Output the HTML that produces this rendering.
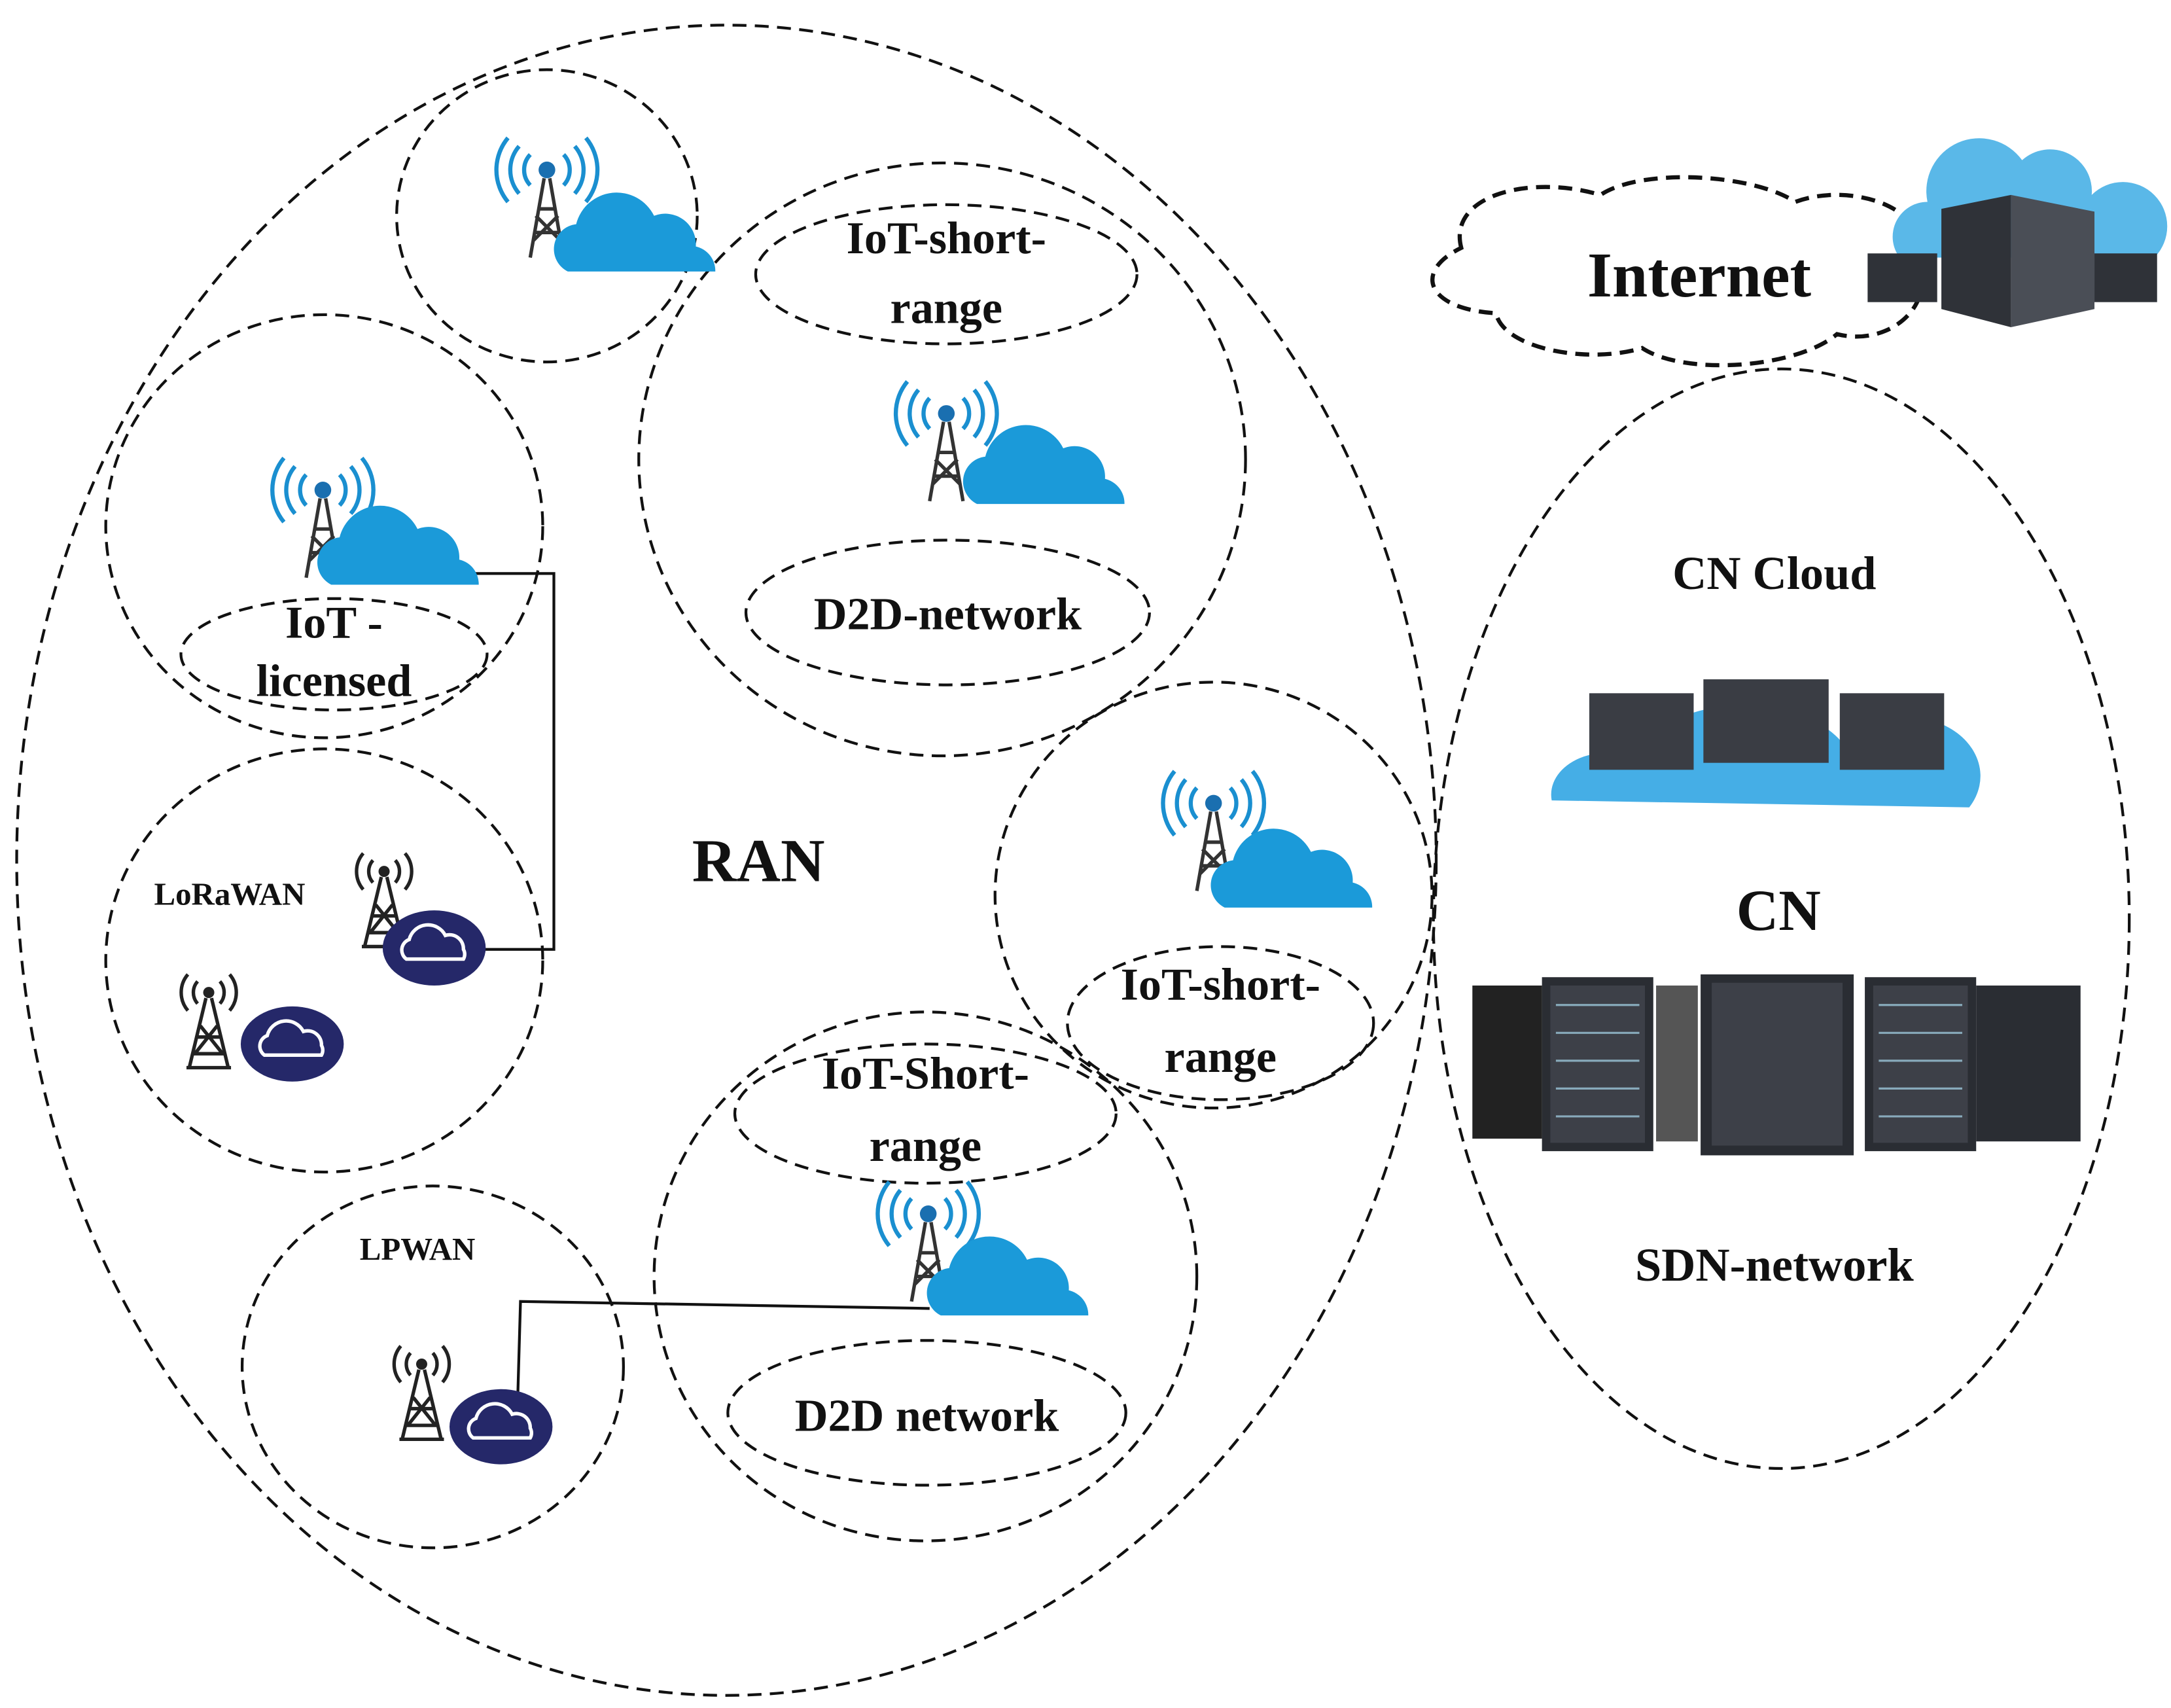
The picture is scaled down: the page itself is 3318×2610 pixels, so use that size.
<!DOCTYPE html>
<html><head><meta charset="utf-8"><style>
html,body{margin:0;padding:0;background:#fff;}
svg{display:block;}
text{font-family:"Liberation Serif",serif;font-weight:bold;fill:#111;text-anchor:middle;}
</style></head><body>
<svg width="3318" height="2610" viewBox="0 0 1560 1227" xmlns="http://www.w3.org/2000/svg">
<defs>
<g id="tower">
 <g fill="none" stroke="#1a8fd0" stroke-width="3">
  <path d="M-12,-14 a16,16 0 0 0 0,22"/><path d="M12,-14 a16,16 0 0 1 0,22"/>
  <path d="M-20,-20 a26,26 0 0 0 0,34"/><path d="M20,-20 a26,26 0 0 1 0,34"/>
  <path d="M-28,-26 a36,36 0 0 0 0,46"/><path d="M28,-26 a36,36 0 0 1 0,46"/>
 </g>
 <circle cx="0" cy="-3" r="6" fill="#1a6fb0"/>
 <g stroke="#333" stroke-width="2.5" fill="none">
  <path d="M-2,3 L-12,60 M2,3 L12,60 M-9,42 L9,42 M-6,25 L6,25 M-10,48 L8,30 M10,48 L-8,30"/>
 </g>
</g>
<g id="dtower">
 <g fill="none" stroke="#222" stroke-width="2.5">
  <path d="M-8,-10 a12,12 0 0 0 0,16"/><path d="M8,-10 a12,12 0 0 1 0,16"/>
  <path d="M-15,-15 a20,20 0 0 0 0,26"/><path d="M15,-15 a20,20 0 0 1 0,26"/>
 </g>
 <circle cx="0" cy="-2" r="4" fill="#222"/>
 <path d="M-2,2 L-14,52 M2,2 L14,52 M-16,52 L16,52 M-8,30 L8,30 M-11,42 L11,42 M-10,42 L6,22 M10,42 L-6,22" stroke="#222" stroke-width="2.5" fill="none"/>
</g>
<g id="bcloud">
 <path d="M0,40 a18,18 0 0 1 6,-34 a30,30 0 0 1 56,-6 a22,22 0 0 1 30,22 a18,18 0 0 1 14,18 z" fill="#1b9ad9"/>
</g>
<g id="ncloud">
 <ellipse cx="0" cy="0" rx="37" ry="27" fill="#252869"/>
 <path d="M-20,8 a8,8 0 0 1 2,-14 a14,14 0 0 1 26,-3 a10,10 0 0 1 13,10 a7,7 0 0 1 0,7 z" fill="none" stroke="#fff" stroke-width="2.5"/>
</g>
<g id="rack">
 <rect x="0" y="0" width="80" height="125" fill="#2a2d33"/>
 <rect x="6" y="6" width="68" height="113" fill="#3d4048"/>
 <g stroke="#8ab" stroke-width="1.5"><path d="M10,20 h60 M10,40 h60 M10,60 h60 M10,80 h60 M10,100 h60"/></g>
</g>
</defs>

<g fill="none" stroke="#111" stroke-width="2" stroke-dasharray="10,6">
 <ellipse cx="522" cy="618" rx="510" ry="600"/>
 <ellipse cx="393" cy="155" rx="108" ry="105"/>
 <ellipse cx="233" cy="378" rx="157" ry="152"/>
 <ellipse cx="240" cy="470" rx="110" ry="40"/>
 <ellipse cx="677" cy="330" rx="218" ry="213"/>
 <ellipse cx="680" cy="197" rx="137" ry="50"/>
 <ellipse cx="681" cy="440" rx="145" ry="52"/>
 <ellipse cx="233" cy="690" rx="157" ry="152"/>
 <ellipse cx="872" cy="643" rx="157" ry="153"/>
 <ellipse cx="877" cy="735" rx="110" ry="55"/>
 <ellipse cx="665" cy="917" rx="195" ry="190"/>
 <ellipse cx="665" cy="800" rx="137" ry="50"/>
 <ellipse cx="666" cy="1015" rx="143" ry="52"/>
 <ellipse cx="311" cy="982" rx="137" ry="130"/>
 <ellipse cx="1280" cy="660" rx="250" ry="395"/>
 <path stroke-width="3" d="M1050,178 C1040,140 1100,125 1150,140 C1180,120 1260,125 1290,145 C1330,130 1390,150 1375,185 C1395,215 1360,250 1320,240 C1290,265 1210,270 1180,250 C1140,262 1080,250 1075,225 C1025,222 1015,195 1050,178 z"/>
</g>

<g stroke="#111" stroke-width="2" fill="none">
 <path d="M318,412 H398 V682 H315"/>
 <path d="M372,1005 L374,935 L668,940"/>
</g>

<use href="#tower" x="393" y="125"/><use href="#bcloud" x="408" y="155"/>
<use href="#tower" x="232" y="355"/><use href="#bcloud" x="238" y="380"/>
<use href="#tower" x="680" y="300"/><use href="#bcloud" x="702" y="322"/>
<use href="#tower" x="872" y="580"/><use href="#bcloud" x="880" y="612"/>
<use href="#tower" x="667" y="875"/><use href="#bcloud" x="676" y="905"/>
<use href="#dtower" x="276" y="628"/><use href="#ncloud" x="312" y="681"/>
<use href="#dtower" x="150" y="715"/><use href="#ncloud" x="210" y="750"/>
<use href="#dtower" x="303" y="982"/><use href="#ncloud" x="360" y="1025"/>

<!-- Internet server icon -->
<path d="M1365,185 a25,25 0 0 1 20,-40 a38,38 0 0 1 68,-30 a30,30 0 0 1 50,25 a25,25 0 0 1 45,45 z" fill="#5ab8e8"/>
<g><path d="M1395,150 L1445,140 L1445,235 L1395,222 z" fill="#2f3238"/><path d="M1445,140 L1505,152 L1505,222 L1445,235 z" fill="#4a4e56"/><rect x="1342" y="182" width="50" height="35" fill="#2f3238"/><rect x="1505" y="182" width="45" height="35" fill="#2f3238"/></g>

<!-- CN cloud servers -->
<path d="M1115,575 a40,30 0 0 1 60,-30 a80,50 0 0 1 150,-10 a50,40 0 0 1 90,45 z" fill="#45aee6"/>
<rect x="1142" y="498" width="75" height="55" fill="#3a3d44"/>
<rect x="1224" y="488" width="90" height="60" fill="#3a3d44"/>
<rect x="1322" y="498" width="75" height="55" fill="#3a3d44"/>
<!-- CN racks -->
<rect x="1058" y="708" width="50" height="110" fill="#222"/>
<use href="#rack" x="1108" y="702"/>
<rect x="1190" y="708" width="30" height="112" fill="#555"/>
<rect x="1222" y="700" width="110" height="130" fill="#2a2d33"/>
<rect x="1230" y="706" width="94" height="117" fill="#3d4048"/>
<use href="#rack" x="1340" y="702"/>
<rect x="1420" y="708" width="75" height="112" fill="#2a2d33"/>

<g font-size="33">
<text x="680" y="182">IoT-short-</text>
<text x="680" y="232">range</text>
<text x="681" y="452">D2D-network</text>
<text x="240" y="458">IoT -</text>
<text x="240" y="500">licensed</text>
<text x="877" y="718">IoT-short-</text>
<text x="877" y="770">range</text>
<text x="665" y="782">IoT-Short-</text>
<text x="665" y="834">range</text>
<text x="666" y="1028">D2D network</text>
</g>
<text x="545" y="633" font-size="44">RAN</text>
<text x="165" y="650" font-size="23">LoRaWAN</text>
<text x="300" y="905" font-size="23">LPWAN</text>
<text x="1221" y="213" font-size="46">Internet</text>
<text x="1275" y="423" font-size="34">CN Cloud</text>
<text x="1278" y="668" font-size="42">CN</text>
<text x="1275" y="920" font-size="34">SDN-network</text>
</svg>
</body></html>
